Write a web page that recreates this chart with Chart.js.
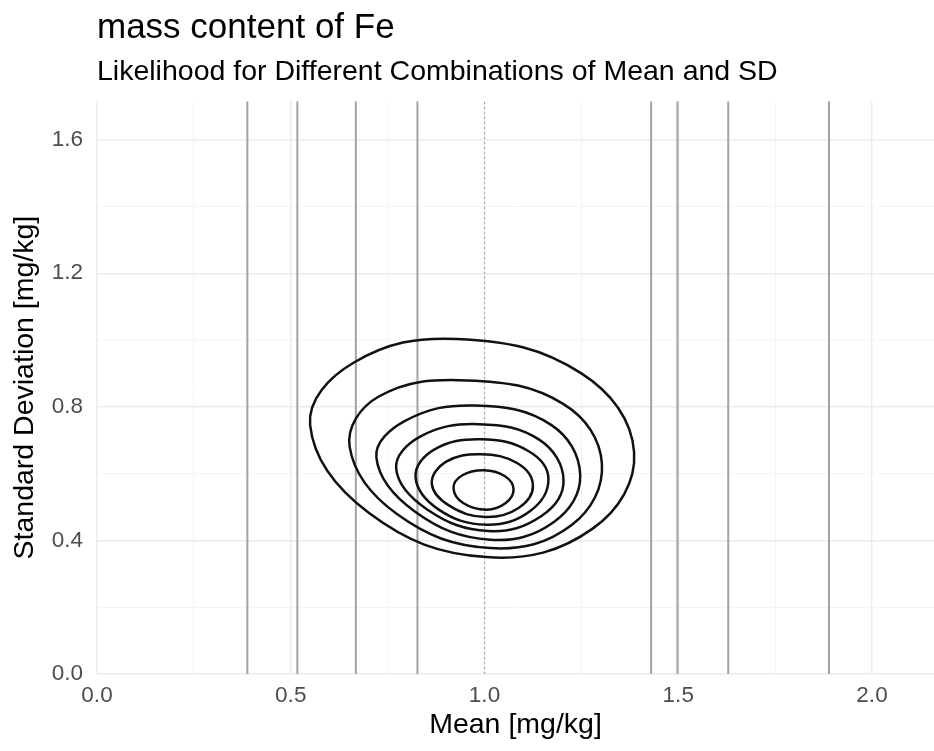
<!DOCTYPE html>
<html>
<head>
<meta charset="utf-8">
<script src="https://cdn.jsdelivr.net/npm/chart.js@4.4.1/dist/chart.umd.min.js"></script>
<style>
  html, body { margin: 0; padding: 0; background: #ffffff; }
  #wrap { width: 934px; height: 751px; }
</style>
</head>
<body>
<div id="wrap"><canvas id="c" width="934" height="751"></canvas></div>
<script>
// ---- data ----
const chartTitle = 'mass content of Fe';
const chartSubtitle = 'Likelihood for Different Combinations of Mean and SD';
const xAxisTitle = 'Mean [mg/kg]';
const yAxisTitle = 'Standard Deviation [mg/kg]';

const xRange = [0, 2.16];
const yRange = [0, 1.715];
const xTickStep = 0.25;   // labelled every 0.5
const yTickStep = 0.2;    // labelled every 0.4

// observed values (grey vertical lines)
const observations = [0.388, 0.517, 0.668, 0.827, 1.430, 1.498, 1.629, 1.889];
// reference value (dotted line)
const referenceMean = [1.0];

// likelihood contours (mean, sd), outermost to innermost
// points: top, upper-left, left, lower-left, bottom, lower-right, right, upper-right
const contour1 = [[0.930,1.003],[0.662,0.932],[0.550,0.745],[0.702,0.482],[1.005,0.350],[1.280,0.436],[1.386,0.665],[1.250,0.900]];
const contour2 = [[0.955,0.879],[0.726,0.830],[0.652,0.680],[0.774,0.479],[1.015,0.377],[1.225,0.446],[1.303,0.630],[1.204,0.808]];
const contour3 = [[0.975,0.804],[0.795,0.758],[0.721,0.648],[0.821,0.486],[1.015,0.402],[1.180,0.456],[1.247,0.595],[1.172,0.746]];
const contour4 = [[0.985,0.748],[0.834,0.711],[0.772,0.615],[0.853,0.492],[1.010,0.428],[1.147,0.473],[1.204,0.580],[1.142,0.701]];
const contour5 = [[0.990,0.703],[0.870,0.672],[0.822,0.590],[0.881,0.493],[1.005,0.447],[1.118,0.488],[1.165,0.585],[1.114,0.667]];
const contour6 = [[0.990,0.658],[0.900,0.635],[0.864,0.570],[0.909,0.504],[1.003,0.470],[1.089,0.498],[1.125,0.565],[1.085,0.631]];
const contour7 = [[0.998,0.610],[0.943,0.595],[0.920,0.557],[0.945,0.512],[1.005,0.492],[1.054,0.511],[1.075,0.553],[1.052,0.593]];
const contours = [contour1, contour2, contour3, contour4, contour5, contour6, contour7];

// ---- styles ----
const FONT = '"Liberation Sans", Arial, Helvetica, sans-serif';

function isLabelled(v, every) {
  const k = Math.round(v * 100);
  return Math.abs(v * 100 - k) < 1e-6 && k % Math.round(every * 100) === 0;
}

const datasets = [];

// closed, smooth contour: wrap neighbours and hide the duplicated segments
contours.forEach((c, ci) => {
  const n = c.length;
  const pts = [c[n - 1], ...c, c[0], c[1]].map(p => ({ x: p[0], y: p[1] }));
  datasets.push({
    label: 'contour ' + (ci + 1),
    data: pts,
    showLine: true,
    borderColor: '#111111',
    borderWidth: 2.5,
    pointRadius: 0,
    tension: 0.4,
    fill: false,
    order: 0,
    segment: {
      borderColor: ctx => (ctx.p0DataIndex === 0 || ctx.p0DataIndex === n + 1) ? 'rgba(0,0,0,0)' : undefined
    }
  });
});

observations.forEach((v, i) => {
  datasets.push({
    label: 'obs ' + (i + 1),
    data: [{ x: v, y: yRange[0] }, { x: v, y: yRange[1] }],
    showLine: true,
    borderColor: '#a3a3a3',
    borderWidth: 2,
    pointRadius: 0,
    order: 2
  });
});

referenceMean.forEach(v => {
  datasets.push({
    label: 'reference',
    data: [{ x: v, y: yRange[0] }, { x: v, y: yRange[1] }],
    showLine: true,
    borderColor: '#a8a8a8',
    borderWidth: 1.2,
    borderDash: [2, 3],
    pointRadius: 0,
    order: 1
  });
});

new Chart(document.getElementById('c'), {
  type: 'scatter',
  data: { datasets },
  options: {
    responsive: false,
    animation: false,
    devicePixelRatio: 1,
    layout: { padding: { left: 0, right: 0, top: 0, bottom: 0 } },
    plugins: {
      legend: { display: false },
      tooltip: { enabled: false },
      title: {
        display: true,
        text: chartTitle,
        align: 'start',
        fullSize: false,
        color: '#000000',
        font: { family: FONT, size: 35, weight: 'normal' },
        padding: { top: 7, bottom: 2 }
      },
      subtitle: {
        display: true,
        text: chartSubtitle,
        align: 'start',
        fullSize: false,
        color: '#000000',
        font: { family: FONT, size: 28.5, weight: 'normal' },
        padding: { top: 4, bottom: 12 }
      }
    },
    scales: {
      x: {
        type: 'linear',
        min: xRange[0],
        max: xRange[1],
        border: { display: false },
        grid: {
          drawTicks: false,
          color: ctx => isLabelled(ctx.tick.value, 0.5) ? '#ebebeb' : '#f3f3f3',
          lineWidth: ctx => isLabelled(ctx.tick.value, 0.5) ? 1.4 : 0.8
        },
        ticks: {
          stepSize: xTickStep,
          includeBounds: false,
          autoSkip: false,
          maxRotation: 0,
          padding: 8,
          color: '#4d4d4d',
          font: { family: FONT, size: 22.5 },
          callback: v => isLabelled(v, 0.5) ? v.toFixed(1) : ''
        },
        title: {
          display: true,
          text: xAxisTitle,
          color: '#000000',
          font: { family: FONT, size: 28.5 },
          padding: { top: 0, bottom: 9 }
        },
        afterFit: s => { s.height = 77; }
      },
      y: {
        type: 'linear',
        min: yRange[0],
        max: yRange[1],
        border: { display: false },
        grid: {
          drawTicks: false,
          color: ctx => isLabelled(ctx.tick.value, 0.4) ? '#ebebeb' : '#f3f3f3',
          lineWidth: ctx => isLabelled(ctx.tick.value, 0.4) ? 1.4 : 0.8
        },
        ticks: {
          stepSize: yTickStep,
          includeBounds: false,
          autoSkip: false,
          padding: 14,
          color: '#4d4d4d',
          font: { family: FONT, size: 22.5 },
          callback: v => isLabelled(v, 0.4) ? v.toFixed(1) : ''
        },
        title: {
          display: true,
          text: yAxisTitle,
          color: '#000000',
          font: { family: FONT, size: 28.5 },
          padding: { top: 8, bottom: 0 }
        },
        afterFit: s => { s.width = 97; }
      }
    }
  }
});
</script>
</body>
</html>
